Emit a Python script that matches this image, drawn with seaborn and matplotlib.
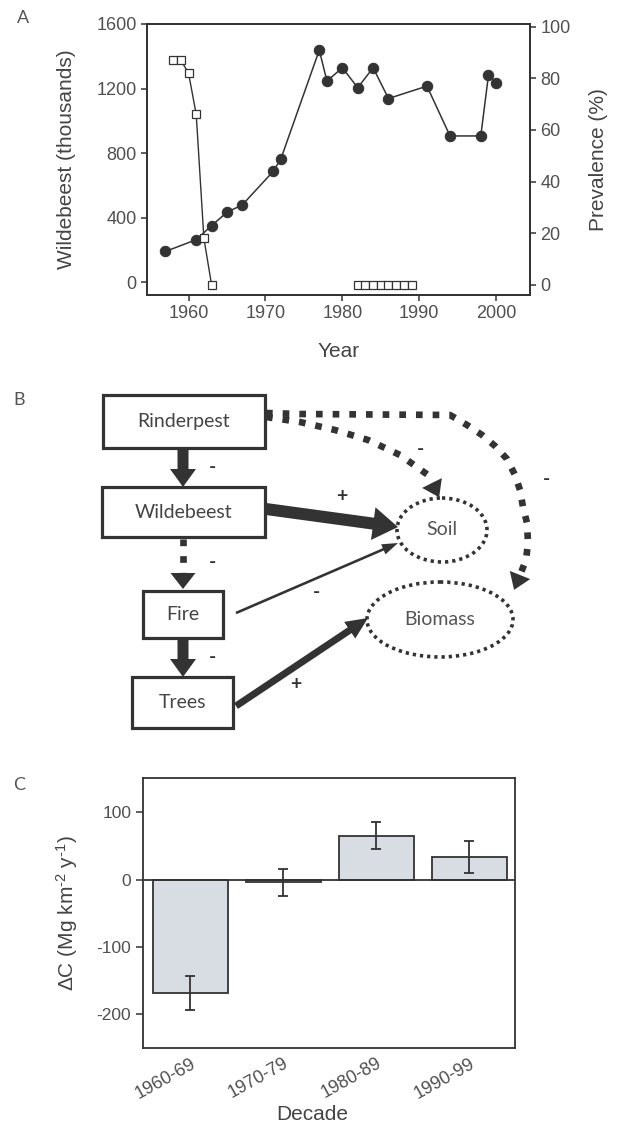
import numpy as np
import pandas as pd
import seaborn as sns
import matplotlib.pyplot as plt
from matplotlib.patches import Rectangle, Ellipse, Polygon, FancyArrow

W, H = 623, 1127

# --- panel A: wildebeest counts (left axis) and rinderpest prevalence (right axis)
wb_year = [1957, 1961, 1963, 1965, 1967, 1971, 1972, 1977, 1978, 1980, 1982,
           1984, 1986, 1991, 1994, 1998, 1999, 2000]
wb_count = [190, 263, 350, 433, 479, 686, 763, 1438, 1246, 1329, 1205,
            1329, 1138, 1215, 906, 906, 1283, 1234]
prev_year = [1958, 1959, 1960, 1961, 1962, 1963,
             1982, 1983, 1984, 1985, 1986, 1987, 1988, 1989]
prev_pct = [87, 87, 82, 66, 18, 0,
            0, 0, 0, 0, 0, 0, 0, 0]
prev_run = [1] * 6 + [2] * 8

# --- panel C: carbon change by decade
decades = ['1960-69', '1970-79', '1980-89', '1990-99']
delta_c = [-168, -4, 65, 34]
delta_c_err = [25, 20, 20, 24]

ink = '#333333'
grey = '#505050'

sns.set_theme(style='ticks')
plt.rcParams['font.family'] = ['Liberation Sans', 'DejaVu Sans']
plt.rcParams['mathtext.fontset'] = 'custom'
plt.rcParams['mathtext.rm'] = 'Liberation Sans'
plt.rcParams['mathtext.it'] = 'Liberation Sans:italic'
plt.rcParams['axes.unicode_minus'] = False
plt.rcParams['axes.edgecolor'] = ink
plt.rcParams['axes.linewidth'] = 1.3

fig = plt.figure(figsize=(W / 100, H / 100), dpi=100)
fig.patch.set_facecolor('white')

# ================= panel A =================
ax_a = fig.add_axes([147 / W, 1 - 295 / H, 383 / W, 271 / H])
sns.lineplot(x=wb_year, y=wb_count, ax=ax_a, estimator=None, color=ink, lw=1.1,
             marker='o', markersize=7.5, markerfacecolor=ink, markeredgecolor=ink)
ax_a.set_xlim(1954.6, 2004.4)
ax_a.set_ylim(-80, 1600)
ax_a.set_xticks([1960, 1970, 1980, 1990, 2000])
ax_a.set_yticks([0, 400, 800, 1200, 1600])
ax_a.tick_params(axis='both', direction='out', length=4, width=1.1, color=ink,
                 labelcolor=grey, labelsize=13, top=False, right=False)
ax_a.set_xlabel('Year', fontsize=15, color='#444444')
ax_a.set_ylabel('Wildebeest (thousands)', fontsize=15, color='#444444')
ax_a.xaxis.set_label_coords(0.5, -0.21)
ax_a.yaxis.set_label_coords((66 - 147) / 383, 0.5)
ax_a.yaxis.label.set_verticalalignment('center')
ax_a.xaxis.label.set_verticalalignment('center')

ax_r = ax_a.twinx()
prev_df = pd.DataFrame({'year': prev_year, 'pct': prev_pct, 'run': prev_run})
sns.lineplot(data=prev_df, x='year', y='pct', units='run', estimator=None, ax=ax_r,
             color=ink, lw=1.0, marker='s', markersize=6.3, markerfacecolor='white',
             markeredgecolor=ink, markeredgewidth=0.9, legend=False)
ax_r.set_ylim(-3.9, 101)
ax_r.set_yticks([0, 20, 40, 60, 80, 100])
ax_r.tick_params(axis='y', direction='out', length=4, width=1.1, color=ink,
                 labelcolor=grey, labelsize=13)
ax_r.set_ylabel('Prevalence (%)', fontsize=15, color='#444444')
ax_r.yaxis.set_label_coords((598 - 147) / 383, 0.5)
ax_r.yaxis.label.set_verticalalignment('center')
ax_r.set_xlabel('')
for ax in (ax_a, ax_r):
    for sp in ax.spines.values():
        sp.set_visible(True)
        sp.set_color(ink)
        sp.set_linewidth(1.3)

# ================= panel B (diagram, pixel coordinates) =================
ax_b = fig.add_axes([0, 1 - 740 / H, 1, 360 / H])
ax_b.set_xlim(0, W)
ax_b.set_ylim(740, 380)
ax_b.axis('off')
diag_font = ['Lato', 'DejaVu Sans']


def box(cx, cy, w, h, label):
    ax_b.add_patch(Rectangle((cx - w / 2, cy - h / 2), w, h, fill=False,
                             lw=2.3, ec=ink))
    ax_b.text(cx, cy, label, ha='center', va='center', fontsize=14,
              color='#444444', family=diag_font)


def oval(cx, cy, w, h, label):
    ax_b.add_patch(Ellipse((cx, cy), w, h, fill=False, lw=2.6, ec=ink,
                           linestyle=(0, (0.9, 1.1))))
    ax_b.text(cx, cy, label, ha='center', va='center', fontsize=14,
              color='#555555', family=diag_font)


def arrow(x0, y0, x1, y1, shaft, head_w, head_l):
    ax_b.add_patch(FancyArrow(x0, y0, x1 - x0, y1 - y0, width=shaft,
                              head_width=head_w, head_length=head_l,
                              length_includes_head=True, color=ink, lw=0))


def dotted(points, head_w, head_l, lw=4.8):
    pts = np.asarray(points, float)
    ax_b.plot(pts[:, 0], pts[:, 1], color=ink, lw=lw, dashes=(1, 1.5),
              dash_capstyle='butt', solid_capstyle='butt')
    d = pts[-1] - pts[-2]
    d = d / np.hypot(*d)
    n = np.array([-d[1], d[0]])
    base = pts[-1]
    tip = base + d * head_l
    ax_b.add_patch(Polygon([tip, base + n * head_w / 2, base - n * head_w / 2],
                           closed=True, color=ink, lw=0))


def sign(x, y, s):
    ax_b.text(x, y, s, ha='center', va='center', fontsize=14, color=ink,
              family=diag_font, fontweight='bold')


box(184, 421.5, 162, 53, 'Rinderpest')
box(183.5, 512, 163, 50, 'Wildebeest')
box(183, 614.5, 80, 47, 'Fire')
box(182.5, 702.5, 101, 51, 'Trees')
oval(442, 530, 90, 64, 'Soil')
oval(440, 619.5, 146, 75, 'Biomass')

arrow(183, 448, 183, 487, 11, 26, 18)
arrow(183, 638, 183, 677, 11, 26, 18)
arrow(266, 509, 398, 527, 12, 33, 25)
arrow(236, 613, 398, 543, 2.6, 11, 16)
arrow(236, 706, 368, 618, 7, 20, 22)

dotted([(183, 539), (183, 573)], 25, 16)
dotted([(266, 417), (300, 422), (335, 430), (368, 440), (400, 455), (428, 475),
        (432, 483)], 22, 16)
dotted([(266, 413), (300, 414), (450, 415), (467, 425), (482, 435), (495, 446),
        (507, 459), (515, 475), (520, 490), (523, 507), (527, 523), (528, 543),
        (526, 560), (520, 575)], 22, 16)

sign(213, 467, '-')
sign(213, 563, '-')
sign(213, 658, '-')
sign(421, 449, '-')
sign(546, 480, '-')
sign(317, 593, '-')
sign(342, 497, '+')
sign(296, 685, '+')

# ================= panel C =================
ax_c = fig.add_axes([143 / W, 1 - 1048 / H, 372 / W, 270 / H])
sns.barplot(x=decades, y=delta_c, ax=ax_c, color='#d8dde4', saturation=1,
            edgecolor=ink, linewidth=1.3, width=0.81, errorbar=None)
ax_c.errorbar(range(len(decades)), delta_c, yerr=delta_c_err, fmt='none',
              ecolor=ink, elinewidth=1.3, capsize=3.6, capthick=1.3)
ax_c.axhline(0, color=ink, lw=1.3, zorder=3)
ax_c.set_xlim(-0.51, 3.49)
ax_c.set_ylim(-250, 151)
ax_c.set_yticks([-200, -100, 0, 100])
ax_c.tick_params(axis='y', direction='out', length=5, width=1.1, color=ink,
                 labelcolor=grey, labelsize=12.5)
ax_c.tick_params(axis='x', length=0, labelcolor=grey, labelsize=13, pad=5)
for lab in ax_c.get_xticklabels():
    lab.set_rotation(29)
    lab.set_ha('right')
    lab.set_va('top')
    lab.set_rotation_mode('anchor')
ax_c.set_xlabel('Decade', fontsize=15, color='#444444')
ax_c.set_ylabel('$\\Delta$C (Mg km$^{\\text{-}2}$ y$^{\\text{-}1}$)', fontsize=15,
                color='#444444')
ax_c.xaxis.set_label_coords((312 - 143) / 372, (1048 - 1115) / 270)
ax_c.xaxis.label.set_verticalalignment('center')
ax_c.yaxis.set_label_coords((67 - 143) / 372, 0.5)
ax_c.yaxis.label.set_verticalalignment('center')
for sp in ax_c.spines.values():
    sp.set_visible(True)
    sp.set_color(ink)
    sp.set_linewidth(1.3)

# panel letters
for letter, (px, py) in {'A': (23, 18), 'B': (19, 400), 'C': (19, 785)}.items():
    fig.text(px / W, 1 - py / H, letter, ha='center', va='center', fontsize=13,
             color='#555555', family=diag_font)

fig.savefig('out.png', dpi=100, facecolor='white')
